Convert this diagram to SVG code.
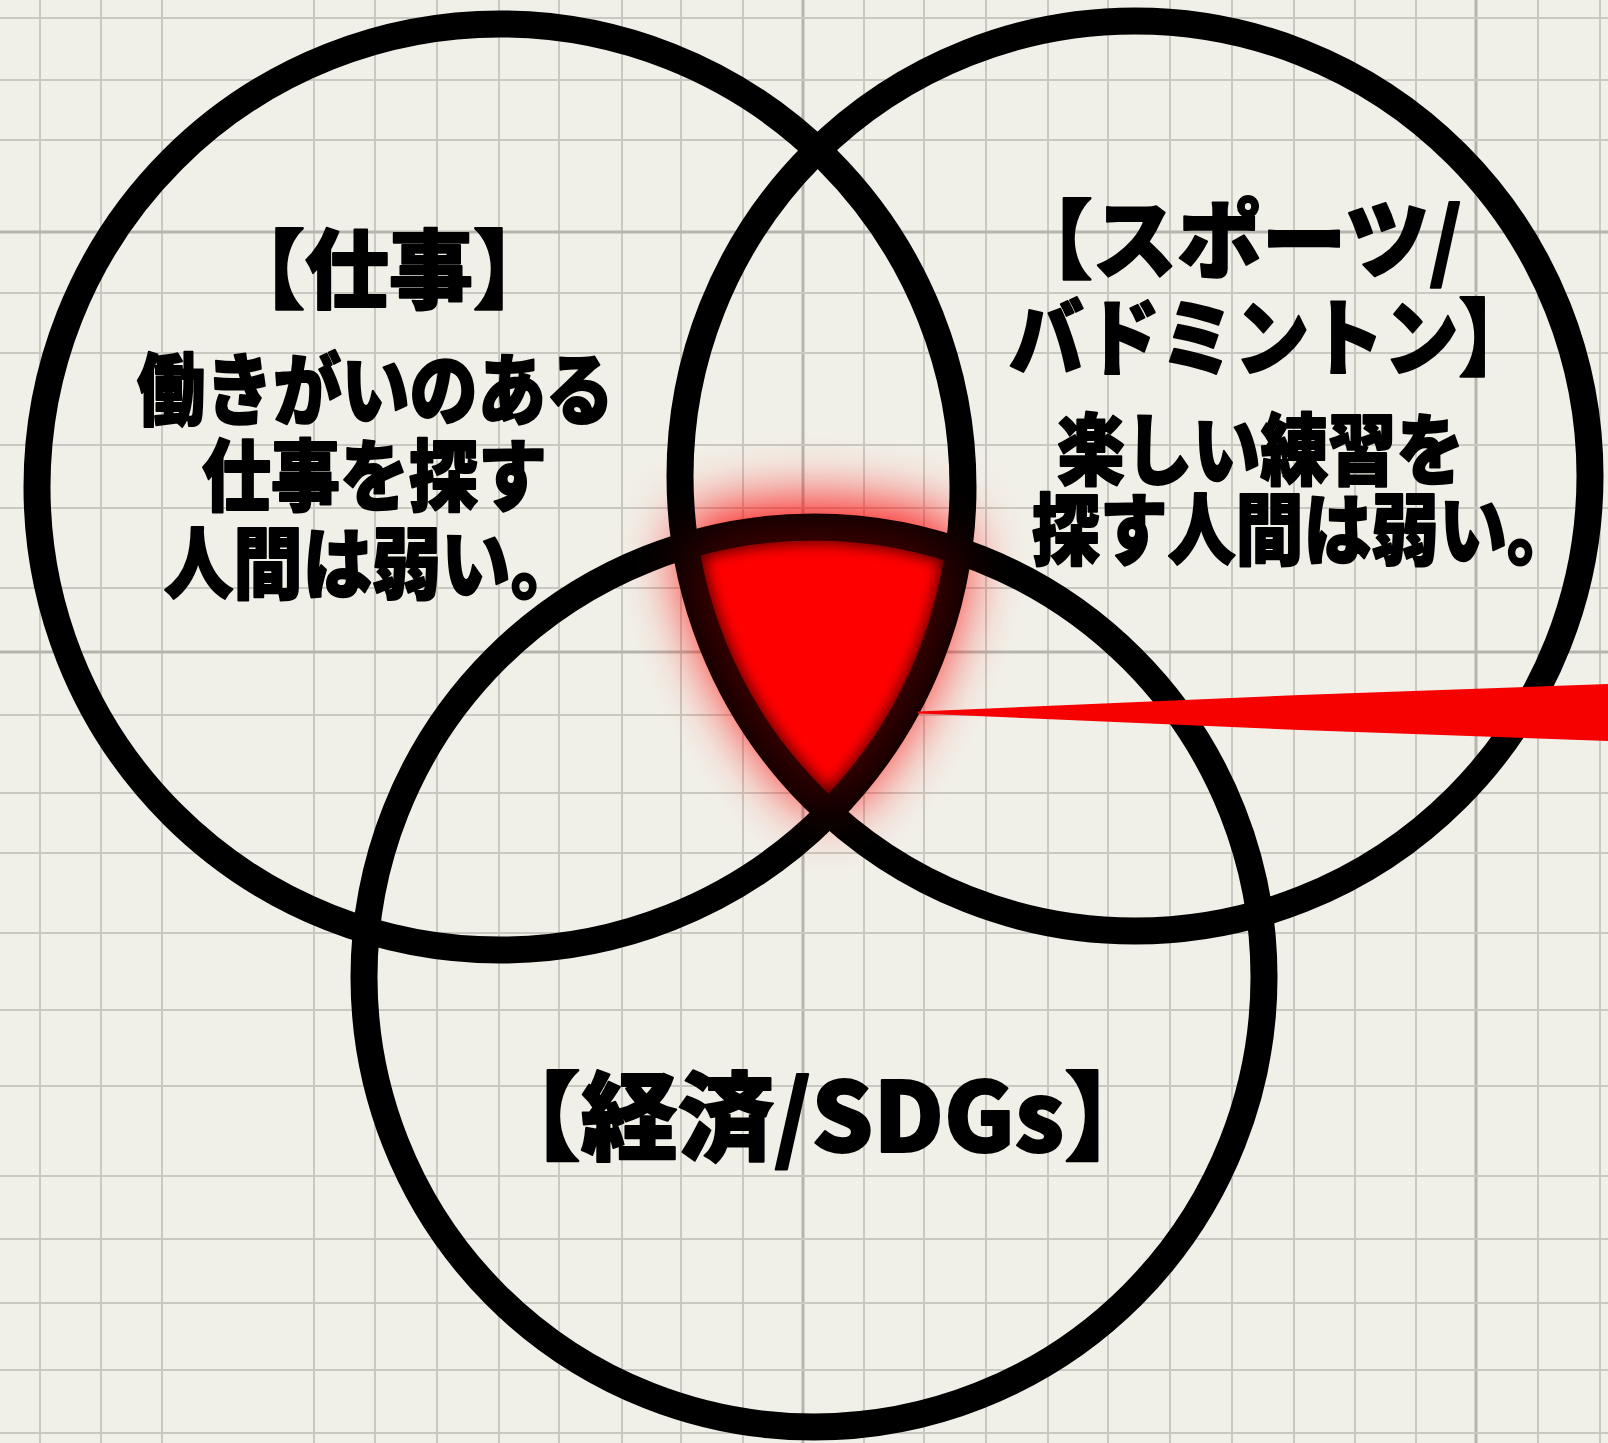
<svg xmlns="http://www.w3.org/2000/svg" width="1608" height="1443" viewBox="0 0 1608 1443">
<style>
.g{stroke:#c9c9c1;stroke-width:2}
.gd{stroke:#b5b5ad;stroke-width:3}
.ring{fill:none;stroke:#000;stroke-width:27}
.t{font-family:'Noto Sans CJK JP','Noto Sans CJK SC',sans-serif;font-weight:900;fill:#000;stroke:#000;stroke-width:2;stroke-linejoin:round}
</style>
<defs>
<clipPath id="cL"><circle cx="500" cy="487" r="463"/></clipPath>
<clipPath id="cR"><circle cx="1135" cy="476" r="455"/></clipPath>
<clipPath id="cB"><circle cx="814" cy="977" r="450"/></clipPath>
<filter id="glow" x="-80%" y="-80%" width="260%" height="260%"><feGaussianBlur stdDeviation="32"/></filter>
<filter id="soft" x="-20%" y="-20%" width="140%" height="140%"><feGaussianBlur stdDeviation="7"/></filter>
</defs>
<rect width="1608" height="1443" fill="#f1f0e8"/>
<g id="grid">
<line class="g" x1="40" y1="0" x2="40" y2="1443"/>
<line class="g" x1="101" y1="0" x2="101" y2="1443"/>
<line class="g" x1="162" y1="0" x2="162" y2="1443"/>
<line class="g" x1="314" y1="0" x2="314" y2="1443"/>
<line class="g" x1="375" y1="0" x2="375" y2="1443"/>
<line class="g" x1="437" y1="0" x2="437" y2="1443"/>
<line class="g" x1="499" y1="0" x2="499" y2="1443"/>
<line class="g" x1="559" y1="0" x2="559" y2="1443"/>
<line class="g" x1="622" y1="0" x2="622" y2="1443"/>
<line class="g" x1="681" y1="0" x2="681" y2="1443"/>
<line class="g" x1="743" y1="0" x2="743" y2="1443"/>
<line class="gd" x1="803" y1="0" x2="803" y2="1443"/>
<line class="g" x1="864" y1="0" x2="864" y2="1443"/>
<line class="g" x1="924" y1="0" x2="924" y2="1443"/>
<line class="g" x1="986" y1="0" x2="986" y2="1443"/>
<line class="g" x1="1048" y1="0" x2="1048" y2="1443"/>
<line class="g" x1="1108" y1="0" x2="1108" y2="1443"/>
<line class="g" x1="1170" y1="0" x2="1170" y2="1443"/>
<line class="g" x1="1232" y1="0" x2="1232" y2="1443"/>
<line class="g" x1="1294" y1="0" x2="1294" y2="1443"/>
<line class="g" x1="1355" y1="0" x2="1355" y2="1443"/>
<line class="g" x1="1416" y1="0" x2="1416" y2="1443"/>
<line class="gd" x1="1476" y1="0" x2="1476" y2="1443"/>
<line class="g" x1="1538" y1="0" x2="1538" y2="1443"/>
<line class="g" x1="1600" y1="0" x2="1600" y2="1443"/>
<line class="g" x1="0" y1="18" x2="1608" y2="18"/>
<line class="g" x1="0" y1="80" x2="1608" y2="80"/>
<line class="g" x1="0" y1="140" x2="1608" y2="140"/>
<line class="gd" x1="0" y1="232" x2="1608" y2="232"/>
<line class="g" x1="0" y1="293" x2="1608" y2="293"/>
<line class="g" x1="0" y1="353" x2="1608" y2="353"/>
<line class="g" x1="0" y1="445" x2="1608" y2="445"/>
<line class="g" x1="0" y1="508" x2="1608" y2="508"/>
<line class="g" x1="0" y1="588" x2="1608" y2="588"/>
<line class="gd" x1="0" y1="652" x2="1608" y2="652"/>
<line class="g" x1="0" y1="715" x2="1608" y2="715"/>
<line class="g" x1="0" y1="793" x2="1608" y2="793"/>
<line class="g" x1="0" y1="853" x2="1608" y2="853"/>
<line class="g" x1="0" y1="933" x2="1608" y2="933"/>
<line class="g" x1="0" y1="1010" x2="1608" y2="1010"/>
<line class="g" x1="0" y1="1086" x2="1608" y2="1086"/>
<line class="g" x1="0" y1="1176" x2="1608" y2="1176"/>
<line class="g" x1="0" y1="1239" x2="1608" y2="1239"/>
<line class="g" x1="0" y1="1303" x2="1608" y2="1303"/>
<line class="g" x1="0" y1="1370" x2="1608" y2="1370"/>
<line class="g" x1="0" y1="1433" x2="1608" y2="1433"/>
</g>
<g id="glow-under" filter="url(#glow)">
<g clip-path="url(#cL)"><g clip-path="url(#cR)"><circle cx="814" cy="977" r="450" fill="#ff0000"/></g></g>
<g clip-path="url(#cL)"><g clip-path="url(#cR)"><circle cx="814" cy="977" r="450" fill="none" stroke="#ff0000" stroke-width="40"/></g></g>
</g>
<g id="overlap-fill">
<g clip-path="url(#cL)"><g clip-path="url(#cR)"><circle cx="814" cy="977" r="450" fill="#ff0000"/></g></g>
<g clip-path="url(#cL)"><g clip-path="url(#cR)"><g clip-path="url(#cB)"><g filter="url(#soft)" opacity="0.75">
<circle cx="500" cy="487" r="463" fill="none" stroke="#000" stroke-width="34"/>
<circle cx="1135" cy="476" r="455" fill="none" stroke="#000" stroke-width="34"/>
<circle cx="814" cy="977" r="450" fill="none" stroke="#000" stroke-width="34"/>
</g></g></g></g>
</g>
<g id="node-work"><circle class="ring" cx="500" cy="487" r="463"/></g>
<g id="node-sports"><circle class="ring" cx="1135" cy="476" r="455"/></g>
<g id="node-economy"><circle class="ring" cx="814" cy="977" r="450"/></g>
<g id="glow-over" filter="url(#glow)" opacity="0.3">
<g clip-path="url(#cL)"><g clip-path="url(#cR)"><circle cx="814" cy="977" r="450" fill="#ff0000"/></g></g>
</g>
<g id="connectors">
<path d="M 918 711.5 L 1300 695 L 1608 684 L 1608 741 L 1300 730 L 918 713.5 Z" fill="#f60000"/>
</g>
<g id="label-work" class="t">
<text x="221" y="302" font-size="86" textLength="336" lengthAdjust="spacingAndGlyphs">【仕事】</text>
<text x="137" y="419" font-size="78" textLength="477" lengthAdjust="spacingAndGlyphs">働きがいのある</text>
<text x="202" y="505" font-size="78" textLength="345" lengthAdjust="spacingAndGlyphs">仕事を探す</text>
<text x="164" y="593" font-size="78" textLength="416" lengthAdjust="spacingAndGlyphs">人間は弱い。</text>
</g>
<g id="label-sports" class="t">
<text x="1008" y="272" font-size="86" textLength="454" lengthAdjust="spacingAndGlyphs">【スポーツ/</text>
<text x="1009" y="369" font-size="84" textLength="524" lengthAdjust="spacingAndGlyphs">バドミントン】</text>
<text x="1057" y="479" font-size="78" textLength="407" lengthAdjust="spacingAndGlyphs">楽しい練習を</text>
<text x="1032" y="559" font-size="78" textLength="543" lengthAdjust="spacingAndGlyphs">探す人間は弱い。</text>
</g>
<g id="label-economy" class="t">
<text x="484" y="1152" font-size="96" textLength="677" lengthAdjust="spacingAndGlyphs">【経済/SDGs】</text>
</g>
</svg>
